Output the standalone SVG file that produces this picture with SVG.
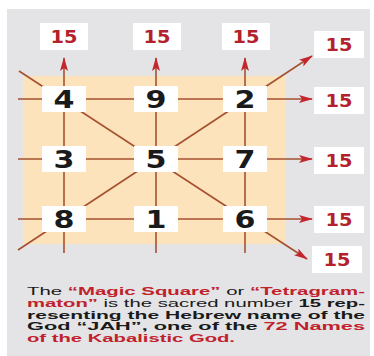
<svg xmlns="http://www.w3.org/2000/svg" width="374" height="356" viewBox="0 0 374 356">
<defs>
<marker id="ah" viewBox="0 0 14 8" markerWidth="14" markerHeight="8" refX="13" refY="4" orient="auto" markerUnits="userSpaceOnUse">
<path d="M0,0 L14,4 L0,8 L3,4 z" fill="#c4262e"/>
</marker>
<style>
.grid line{stroke:#a5512f;stroke-width:1.6;fill:none}
.arr{marker-end:url(#ah)}
.nb rect{fill:#ffffff}
.nb text{font-family:"DejaVu Sans",sans-serif;font-weight:bold;font-size:25px;fill:#1a1a1a;text-anchor:middle}
.lb rect{fill:#ffffff}
.lb text{font-family:"DejaVu Sans",sans-serif;font-weight:bold;font-size:17px;fill:#b3222c;text-anchor:middle}
.cap{font-family:"Liberation Sans",Arial,sans-serif;font-size:11.5px;fill:#1a1a1a}
.b{font-weight:bold}
.r{fill:#c0222c;font-weight:bold}
</style>
</defs>
<rect x="7" y="9" width="363" height="347" fill="#e4e4e6"/>
<rect x="23" y="76" width="263" height="168" fill="#fde3bb"/>
<g id="connectors" class="grid">
<line x1="64" y1="253" x2="64" y2="58" class="arr"/>
<line x1="156" y1="253" x2="156" y2="58" class="arr"/>
<line x1="245" y1="253" x2="245" y2="58" class="arr"/>
<line x1="18" y1="99" x2="312" y2="99" class="arr"/>
<line x1="18" y1="159" x2="312" y2="159" class="arr"/>
<line x1="18" y1="219" x2="312" y2="219" class="arr"/>
<line x1="19" y1="71" x2="307" y2="259" class="arr"/>
<line x1="18" y1="250" x2="312" y2="56" class="arr"/>
</g>
<g id="n4" class="nb"><rect x="42" y="86" width="44" height="26"/><text x="64" y="108" textLength="21" lengthAdjust="spacingAndGlyphs">4</text></g>
<g id="n9" class="nb"><rect x="134" y="86" width="44" height="26"/><text x="156" y="108" textLength="21" lengthAdjust="spacingAndGlyphs">9</text></g>
<g id="n2" class="nb"><rect x="223" y="86" width="44" height="26"/><text x="245" y="108" textLength="21" lengthAdjust="spacingAndGlyphs">2</text></g>
<g id="n3" class="nb"><rect x="42" y="146" width="44" height="26"/><text x="64" y="168" textLength="21" lengthAdjust="spacingAndGlyphs">3</text></g>
<g id="n5" class="nb"><rect x="134" y="146" width="44" height="26"/><text x="156" y="168" textLength="21" lengthAdjust="spacingAndGlyphs">5</text></g>
<g id="n7" class="nb"><rect x="223" y="146" width="44" height="26"/><text x="245" y="168" textLength="21" lengthAdjust="spacingAndGlyphs">7</text></g>
<g id="n8" class="nb"><rect x="42" y="206" width="44" height="26"/><text x="64" y="228" textLength="21" lengthAdjust="spacingAndGlyphs">8</text></g>
<g id="n1" class="nb"><rect x="134" y="206" width="44" height="26"/><text x="156" y="228" textLength="21" lengthAdjust="spacingAndGlyphs">1</text></g>
<g id="n6" class="nb"><rect x="223" y="206" width="44" height="26"/><text x="245" y="228" textLength="21" lengthAdjust="spacingAndGlyphs">6</text></g>
<g id="s1" class="lb"><rect x="40" y="23" width="48" height="27"/><text x="64" y="43" textLength="27" lengthAdjust="spacingAndGlyphs">15</text></g>
<g id="s2" class="lb"><rect x="133" y="23" width="48" height="27"/><text x="157" y="43" textLength="27" lengthAdjust="spacingAndGlyphs">15</text></g>
<g id="s3" class="lb"><rect x="222" y="23" width="48" height="27"/><text x="246" y="43" textLength="27" lengthAdjust="spacingAndGlyphs">15</text></g>
<g id="s4" class="lb"><rect x="314" y="31" width="50" height="27"/><text x="339" y="51" textLength="27" lengthAdjust="spacingAndGlyphs">15</text></g>
<g id="s5" class="lb"><rect x="314" y="87" width="50" height="27"/><text x="339" y="107" textLength="27" lengthAdjust="spacingAndGlyphs">15</text></g>
<g id="s6" class="lb"><rect x="314" y="147" width="50" height="27"/><text x="339" y="167" textLength="27" lengthAdjust="spacingAndGlyphs">15</text></g>
<g id="s7" class="lb"><rect x="314" y="206" width="50" height="27"/><text x="339" y="226" textLength="27" lengthAdjust="spacingAndGlyphs">15</text></g>
<g id="s8" class="lb"><rect x="312" y="246" width="50" height="27"/><text x="337" y="266" textLength="27" lengthAdjust="spacingAndGlyphs">15</text></g>
<g id="caption" class="cap">
<text x="27" y="295" textLength="338" lengthAdjust="spacingAndGlyphs">The <tspan class="r">“Magic Square”</tspan> or <tspan class="r">“Tetragram-</tspan></text>
<text x="27" y="306.75" textLength="338" lengthAdjust="spacingAndGlyphs"><tspan class="r">maton”</tspan> is the sacred number <tspan class="b">15 rep-</tspan></text>
<text x="27" y="318.5" textLength="338" lengthAdjust="spacingAndGlyphs" class="b">resenting the Hebrew name of the</text>
<text x="27" y="330.25" textLength="338" lengthAdjust="spacingAndGlyphs" class="b">God “JAH”, one of the <tspan class="r">72 Names</tspan></text>
<text x="27" y="342" textLength="208" lengthAdjust="spacingAndGlyphs" class="r">of the Kabalistic God.</text>
</g>
</svg>
